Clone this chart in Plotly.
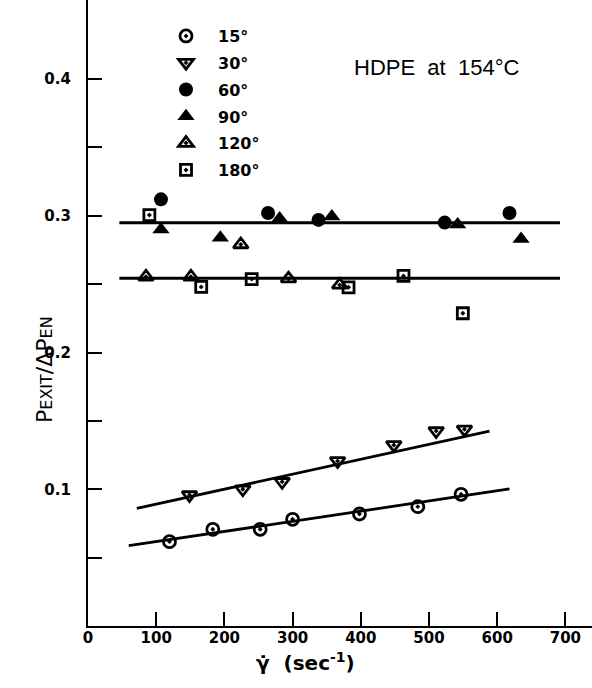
import plotly.graph_objects as go

# ---- data ----
x_15 = [119.5, 183, 252.5, 300, 398, 483.6, 547]
y_15 = [0.0617, 0.0707, 0.0707, 0.0780, 0.0819, 0.0873, 0.0963]

x_30 = [148.8, 227, 284.7, 366, 448.4, 510.5, 552]
y_30 = [0.0958, 0.1000, 0.1055, 0.1207, 0.1324, 0.1426, 0.1438]

x_60 = [107, 264, 338, 523, 618]
y_60 = [0.312, 0.302, 0.297, 0.295, 0.302]

x_90 = [107, 194, 281, 357.5, 542, 635]
y_90 = [0.290, 0.284, 0.298, 0.2994, 0.2937, 0.283]

x_120 = [85, 151, 224, 294, 369]
y_120 = [0.2554, 0.2554, 0.279, 0.254, 0.2494]

x_180 = [90, 166, 240, 382, 462.6, 549.6]
y_180 = [0.3005, 0.248, 0.2537, 0.2477, 0.256, 0.2287]

# fitted lines (endpoints)
fit_hi_x = [46, 692]
fit_hi_y = [0.2949, 0.2949]
fit_lo_x = [46, 692]
fit_lo_y = [0.2543, 0.2543]
fit_30_x = [71.6, 588.7]
fit_30_y = [0.0860, 0.1426]
fit_15_x = [59.8, 618]
fit_15_y = [0.0587, 0.1002]

labels = ["15°", "30°", "60°", "90°", "120°", "180°"]
x_ticks = [0, 100, 200, 300, 400, 500, 600, 700]
y_ticks = [0.05, 0.1, 0.15, 0.2, 0.25, 0.3, 0.35, 0.4]
y_tick_text = ["", "0.1", "", "0.2", "", "0.3", "", "0.4"]

# ---- figure ----
fig = go.Figure()
LW = 2.8
for fx, fy in [(fit_hi_x, fit_hi_y), (fit_lo_x, fit_lo_y), (fit_30_x, fit_30_y), (fit_15_x, fit_15_y)]:
    fig.add_trace(go.Scatter(x=fx, y=fy, mode="lines", line=dict(color="black", width=LW),
                             showlegend=False, hoverinfo="skip"))

series = [
    (x_15, y_15, "circle-open-dot", 12),
    (x_30, y_30, "triangle-down-open-dot", 13),
    (x_60, y_60, "circle", 14),
    (x_90, y_90, "triangle-up", 15),
    (x_120, y_120, "triangle-up-open-dot", 13),
    (x_180, y_180, "square-open-dot", 11),
]
for (sx, sy, sym, sz), name in zip(series, labels):
    filled = "open" not in sym
    fig.add_trace(go.Scatter(
        x=sx, y=sy, mode="markers", name=name, legendgroup=name,
        marker=dict(symbol=sym, size=sz, color="black",
                    line=dict(color="black", width=0 if filled else 2.8)),
    ))

FONT = "DejaVu Sans"
fig.update_layout(
    width=592, height=688,
    margin=dict(l=88, r=0, t=0, b=62),
    plot_bgcolor="white", paper_bgcolor="white",
    font=dict(family=FONT, color="black"),
    showlegend=True,
    legend=dict(x=(154 - 88) / 504, y=1 - 19 / 626, xanchor="left", yanchor="top",
                font=dict(size=16, family=FONT, weight="bold"),
                tracegroupgap=3, itemwidth=54, bgcolor="rgba(0,0,0,0)"),
    xaxis=dict(range=[0, 739], tickvals=x_ticks, ticktext=[str(v) for v in x_ticks],
               ticks="inside", ticklen=14, tickwidth=2, tickcolor="black",
               showline=True, linewidth=2.2, linecolor="black", showgrid=False, zeroline=False,
               ticklabelstandoff=-3,
               tickfont=dict(size=15, family=FONT, weight="bold")),
    yaxis=dict(range=[0, 0.4578], tickvals=y_ticks, ticktext=y_tick_text,
               ticks="inside", ticklen=14, tickwidth=2, tickcolor="black",
               showline=True, linewidth=2.2, linecolor="black", showgrid=False, zeroline=False,
               ticklabelstandoff=12,
               tickfont=dict(size=15, family=FONT, weight="bold")),
)

fig.add_annotation(text="HDPE  at  154°C", xref="paper", yref="paper",
                   x=(436 - 88) / 504, y=1 - 67 / 626, xanchor="center", yanchor="middle",
                   showarrow=False, font=dict(size=22, family="Liberation Sans"))
fig.add_annotation(text="P<span style='font-size:16px'>EXIT</span>/ΔP<span style='font-size:16px'>EN</span>",
                   xref="paper", yref="paper", x=(44 - 88) / 504, y=1 - 370 / 626,
                   xanchor="center", yanchor="middle",
                   textangle=-90, showarrow=False,
                   font=dict(size=22, family=FONT))
fig.add_annotation(text="γ̇  (sec<sup>-1</sup>)", xref="paper", yref="paper",
                   x=(305 - 88) / 504, y=1 - 662 / 626, xanchor="center", yanchor="middle",
                   showarrow=False,
                   font=dict(size=20, family=FONT, weight="bold"))

fig.write_html("out.html")
